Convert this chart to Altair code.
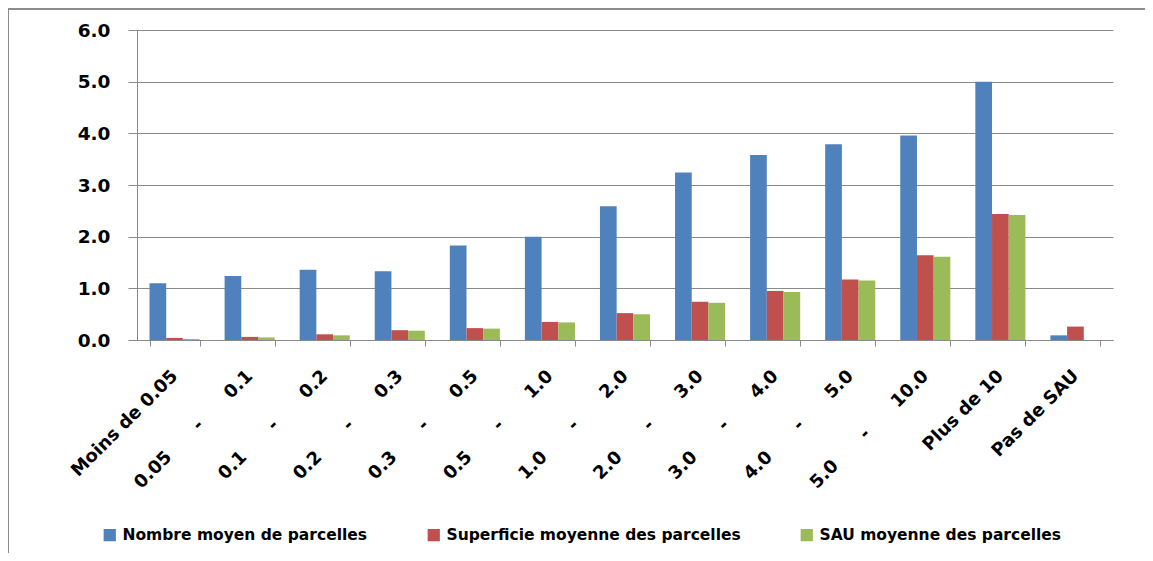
import altair as alt
import pandas as pd

NB = "\u00a0" * 6
categories = ["Moins de 0.05", f"0.05{NB}-{NB}0.1", f"0.1{NB}-{NB}0.2", f"0.2{NB}-{NB}0.3",
              f"0.3{NB}-{NB}0.5", f"0.5{NB}-{NB}1.0", f"1.0{NB}-{NB}2.0", f"2.0{NB}-{NB}3.0",
              f"3.0{NB}-{NB}4.0", f"4.0{NB}-{NB}5.0", f"5.0{NB}-{NB}10.0", "Plus de 10", "Pas de SAU"]
series = ["Nombre moyen de parcelles", "Superficie moyenne des parcelles", "SAU moyenne des parcelles"]
nombre = [1.10, 1.24, 1.36, 1.33, 1.83, 2.00, 2.59, 3.24, 3.58, 3.79, 3.96, 5.00, 0.09]
superficie = [0.04, 0.06, 0.11, 0.19, 0.23, 0.35, 0.52, 0.74, 0.95, 1.17, 1.64, 2.44, 0.26]
sau = [0.02, 0.05, 0.09, 0.18, 0.22, 0.34, 0.50, 0.72, 0.93, 1.15, 1.61, 2.42, 0.0]
colors = ["#4F81BD", "#C0504D", "#9BBB59"]

rows = []
for s, vals in zip(series, [nombre, superficie, sau]):
    for c, v in zip(categories, vals):
        rows.append({"cat": c, "serie": s, "val": v})
df = pd.DataFrame(rows)

FONT = "DejaVu Sans"
GRID = "#8a8a8a"

bars = alt.Chart(df).mark_bar().encode(
    x=alt.X("cat:N", sort=categories,
            scale=alt.Scale(paddingInner=0.333, paddingOuter=0.1667),
            axis=alt.Axis(title=None, labelAngle=-45, labelAlign="right", labelBaseline="middle",
                          labelFont=FONT, labelFontWeight="bold", labelFontSize=18, labelColor="black",
                          labelLimit=400, labelPadding=27, tickSize=6, tickColor=GRID,
                          domainColor=GRID, tickBand="extent", grid=False, labelOverlap=False)),
    xOffset=alt.XOffset("serie:N", sort=series, scale=alt.Scale(domain=series)),
    y=alt.Y("val:Q", scale=alt.Scale(domain=[0, 6]),
            axis=alt.Axis(title=None, values=[0, 1, 2, 3, 4, 5, 6], format=".1f",
                          labelFont=FONT, labelFontWeight="bold", labelFontSize=18.5, labelColor="black",
                          labelPadding=18, tickSize=9, tickColor=GRID, domainColor=GRID,
                          grid=True, gridColor=GRID, gridOpacity=1)),
    color=alt.Color("serie:N", sort=series,
                    scale=alt.Scale(domain=series, range=colors),
                    legend=alt.Legend(title=None, orient="none", direction="horizontal",
                                      legendX=-35, legendY=497, symbolType="square",
                                      symbolSize=150, symbolStrokeWidth=0, symbolOpacity=1,
                                      labelFont=FONT, labelFontWeight="bold", labelFontSize=15.5,
                                      labelColor="black", labelOffset=5, columnPadding=58,
                                      labelLimit=400)),
)

one = pd.DataFrame({"a": [0]})
top_border = alt.Chart(one).mark_rule(color="#8c8c8c", strokeWidth=2).encode(
    x=alt.value(-130), x2=alt.value(1020), y=alt.value(-21))
left_border = alt.Chart(one).mark_rule(color="#8c8c8c", strokeWidth=2).encode(
    x=alt.value(-129), y=alt.value(-22), y2=alt.value(525))

chart = alt.layer(bars, top_border, left_border).properties(
    width=976, height=310,
    autosize=alt.AutoSizeParams(type="none"),
    padding={"left": 129, "top": 22, "right": 32, "bottom": 213},
).configure_view(stroke=None)

chart.save("out.html", embed_options={"renderer": "svg", "actions": False})
